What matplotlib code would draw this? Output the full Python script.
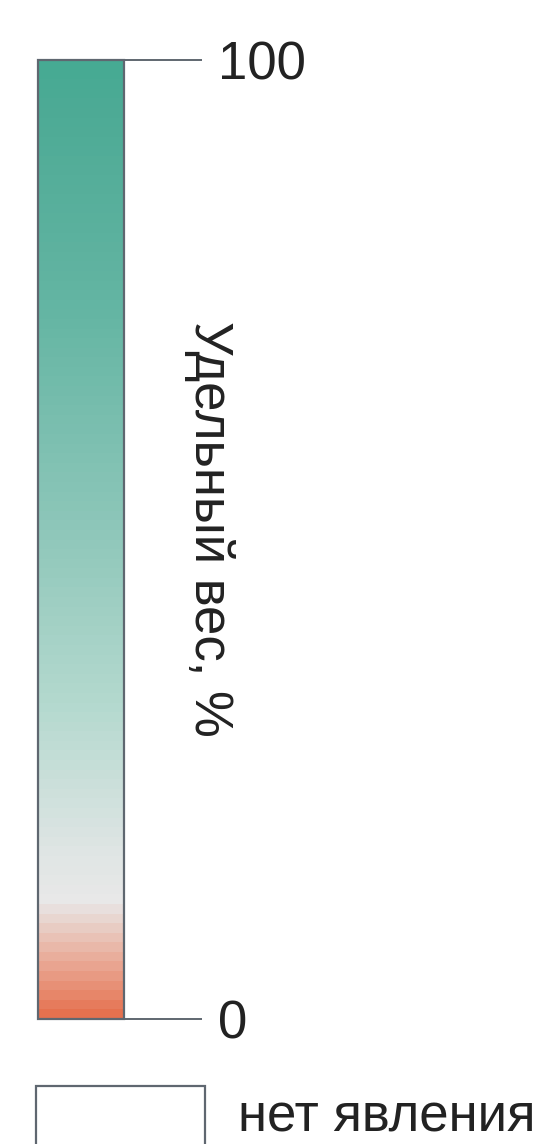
import numpy as np
import matplotlib.pyplot as plt
from matplotlib.colors import LinearSegmentedColormap, Normalize
from matplotlib.cm import ScalarMappable
from matplotlib.patches import Rectangle

plt.rcParams['font.family'] = ['Liberation Sans', 'DejaVu Sans']

# scale
vmin, vmax = 0, 100
ticks = [0, 100]
label = "Удельный вес, %"
no_data_label = "нет явления"

# colour stops (position 0..1, colour)
stops = [0.0, 0.05, 0.12, 0.17, 0.32, 0.53, 0.74, 0.95, 1.0]
stop_colors = ["#e5714f", "#e9a48f", "#e8e8e8", "#dfe5e4", "#b5d9cf",
               "#8ac5b7", "#64b5a3", "#4daa95", "#46aa93"]

cmap = LinearSegmentedColormap.from_list("share", list(zip(stops, stop_colors)), N=100)

fig = plt.figure(figsize=(5.4, 11.44), dpi=100)
W, H = 540, 1144

cax = fig.add_axes([38 / W, 1 - 1019 / H, 86 / W, 959 / H])
sm = ScalarMappable(norm=Normalize(vmin, vmax), cmap=cmap)
cb = fig.colorbar(sm, cax=cax, ticks=ticks)
cb.outline.set_edgecolor("#5f6770")
cb.outline.set_linewidth(1.6)
cax.tick_params(length=56, width=1.4, color="#5f6770", pad=12,
                labelsize=38, labelcolor="#222222")

fig.text(209 / W, 1 - 529 / H, label, rotation=270, ha="center", va="center",
         fontsize=38, color="#222222")

# no-data legend box
fig.patches.append(Rectangle((36 / W, 1 - 1160 / H), 169 / W, 74 / H,
                             transform=fig.transFigure, facecolor="white",
                             edgecolor="#5f6770", linewidth=1.6))
fig.text(238 / W, 1 - 1118 / H, no_data_label, ha="left", va="center",
         fontsize=38, color="#222222")

fig.savefig("out.png", dpi=100)
